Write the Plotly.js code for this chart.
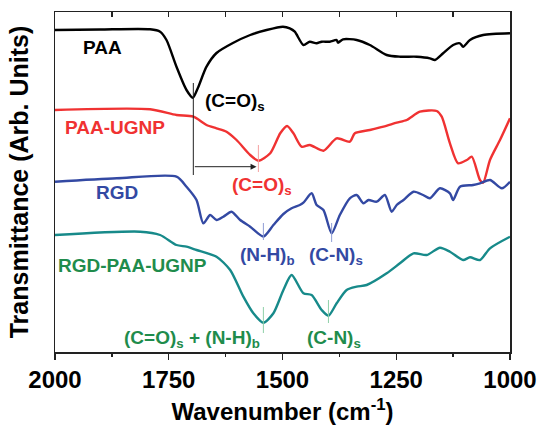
<!DOCTYPE html>
<html>
<head>
<meta charset="utf-8">
<script src="https://cdn.plot.ly/plotly-3.0.1.min.js"></script>
<style>html,body{margin:0;padding:0;background:#fff;}#chart{width:541px;height:425px;}</style>
</head>
<body>
<div id="chart"></div>
<script>
// Wavenumber (cm-1) and transmittance (arbitrary units, offset)
const paaX = [2000,1901,1791,1769,1755,1733,1711,1697,1686,1667,1645,1609,1571,1535,1499,1484,1473,1454,1440,1425,1414,1396,1381,1378,1367,1337,1308,1271,1242,1205,1176,1165,1147,1125,1110,1103,1088,1059,1000];
const paaY = [322,322.5,322.7,320.3,312,285.3,262,254.3,264,285.3,299,309,317,322,325.3,323.7,320.3,307,310.3,308.7,310.3,310.3,312,309.3,312.7,312,307,297,295.3,295.3,293.7,292,298.7,307,308.7,305.3,312,317,318.7];

const ugnpX = [2000,1791,1733,1696,1667,1645,1623,1601,1571,1553,1527,1505,1490,1476,1458,1440,1410,1381,1352,1341,1308,1278,1249,1227,1198,1161,1150,1132,1114,1095,1084,1066,1059,1044,1022,1000];
const ugnpY = [242,242.7,237,235.3,227,223.7,220.3,212,197,191.3,198.7,218.7,226,218.7,205.3,207,201.3,213.7,210.3,218.7,222,225.3,229.3,232,240.3,241,235.3,208.7,188.7,192,195.3,172,169.3,192,212,233.7];

const rgdX = [2000,1864,1733,1711,1689,1674,1659,1645,1630,1612,1593,1571,1542,1520,1498,1480,1462,1454,1436,1425,1410,1392,1374,1352,1337,1322,1311,1293,1275,1260,1249,1234,1212,1191,1176,1154,1132,1125,1110,1081,1066,1044,1018,1000];
const rgdY = [170.3,173.7,175.3,165.3,152,128.7,137,132,135.3,140.3,132,125.3,115.5,127,138,143.7,147,149.3,158.7,147,142,118.7,137,153.7,157,148.7,152,150.3,157,140.3,147,152,160.3,157,153.7,163.7,158.7,152,165.3,167,168.7,172,163.7,170.3];

const rgdUgnpX = [2000,1813,1769,1733,1711,1689,1645,1615,1586,1564,1542,1520,1498,1480,1454,1436,1414,1399,1381,1359,1337,1315,1271,1242,1212,1183,1154,1132,1103,1088,1066,1044,1000];
const rgdUgnpY = [117,120.3,117,107,105.3,102,95.3,82,55.3,38.7,29.3,38.7,62,77,58.7,57,42,36.3,48.7,62,65.3,67,78.7,88.7,98.7,97,104.3,100.3,92,94.7,92,103.7,115.3];

const seriesNames = ['PAA','PAA-UGNP','RGD','RGD-PAA-UGNP'];
const xTickVals = [2000,1750,1500,1250,1000];
const xTickText = ['2000','1750','1500','1250','1000'];

const cBlack = '#000000', cRed = '#f03232', cBlue = '#3349a3', cTeal = '#178a8a', cGreen = '#1f8c4c';
const FONT = 'Liberation Sans, Arial, sans-serif';

function line(x, y, color, name){
  return {x:x, y:y, type:'scatter', mode:'lines', name:name,
    line:{color:color, width:2.4, shape:'spline', smoothing:0.7}, hoverinfo:'skip'};
}
const traces = [
  line(paaX, paaY, cBlack, seriesNames[0]),
  line(ugnpX, ugnpY, cRed, seriesNames[1]),
  line(rgdX, rgdY, cBlue, seriesNames[2]),
  line(rgdUgnpX, rgdUgnpY, cTeal, seriesNames[3]),
  {x:[1500], y:[null], xaxis:'x2', type:'scatter', mode:'lines', showlegend:false, hoverinfo:'skip'}
];

function vline(x, y0, y1, color){
  return {type:'line', xref:'x', yref:'y', x0:x, x1:x, y0:y0, y1:y1, line:{color:color, width:1}};
}
const shapes = [
  vline(1696, 269, 177, '#222'),
  vline(1553, 207, 180, '#f5a0a0'),
  vline(1542, 129, 112, '#8f9dd4'),
  vline(1392, 129, 110, '#8f9dd4'),
  vline(1542, 45, 19, '#8fd0a8'),
  vline(1399, 52, 29, '#8fd0a8')
];

function label(text, x, y, color){
  return {text:text, x:x, y:y, xref:'x', yref:'y', showarrow:false,
    font:{family:FONT, size:19, color:color, weight:'bold'}, xanchor:'center', yanchor:'middle'};
}
const annotations = [
  label('PAA', 1895, 305, cBlack),
  label('(C=O)<sub>s</sub>', 1605, 250, cBlack),
  label('PAA-UGNP', 1868, 225, cRed),
  label('(C=O)<sub>s</sub>', 1545, 166, cRed),
  label('RGD', 1864, 160, cBlue),
  label('(N-H)<sub>b</sub>', 1532, 96, cBlue),
  label('(C-N)<sub>s</sub>', 1382, 96, cBlue),
  label('RGD-PAA-UGNP', 1829, 87, cGreen),
  label('(C=O)<sub>s</sub> + (N-H)<sub>b</sub>', 1699, 13, cGreen),
  label('(C-N)<sub>s</sub>', 1387, 13, cGreen),
  {x:1557, y:185.3, ax:1696, ay:185.3, xref:'x', yref:'y', axref:'x', ayref:'y', text:'',
   showarrow:true, arrowhead:2, arrowsize:1.2, arrowwidth:1, arrowcolor:'#222'}
];

const layout = {
  width:541, height:425,
  margin:{l:55, r:31, t:12, b:73},
  paper_bgcolor:'#fff', plot_bgcolor:'#fff',
  showlegend:false,
  font:{family:FONT, color:'#000'},
  xaxis:{range:[2000,1000], showgrid:false, zeroline:false,
    showline:true, linecolor:'#222', linewidth:1.5, mirror:true,
    tickmode:'array', tickvals:xTickVals, ticktext:xTickText,
    ticks:'outside', ticklen:6, tickwidth:1.3, tickcolor:'#222',
    minor:{dtick:125, tick0:2000, ticks:'outside', ticklen:3, tickwidth:1.3, tickcolor:'#222'},
    tickfont:{family:FONT, size:24, color:'#000', weight:'bold'},
    title:{text:'Wavenumber (cm<sup>-1</sup>)', font:{family:FONT, size:24, color:'#000', weight:'bold'}, standoff:12}
  },
  xaxis2:{range:[2000,1000], overlaying:'x', side:'top', showgrid:false, zeroline:false,
    showline:false, showticklabels:false, tickmode:'linear', tick0:2000, dtick:125,
    ticks:'inside', ticklen:5, tickwidth:1.3, tickcolor:'#222'},
  yaxis:{range:[0,340], showgrid:false, zeroline:false, showticklabels:false, ticks:'',
    showline:true, linecolor:'#222', linewidth:1.5, mirror:true,
    title:{text:'Transmittance (Arb. Units)', font:{family:FONT, size:25, color:'#000', weight:'bold'}, standoff:18}
  },
  shapes:shapes,
  annotations:annotations
};

Plotly.newPlot('chart', traces, layout, {displayModeBar:false, staticPlot:true});
</script>
</body>
</html>
